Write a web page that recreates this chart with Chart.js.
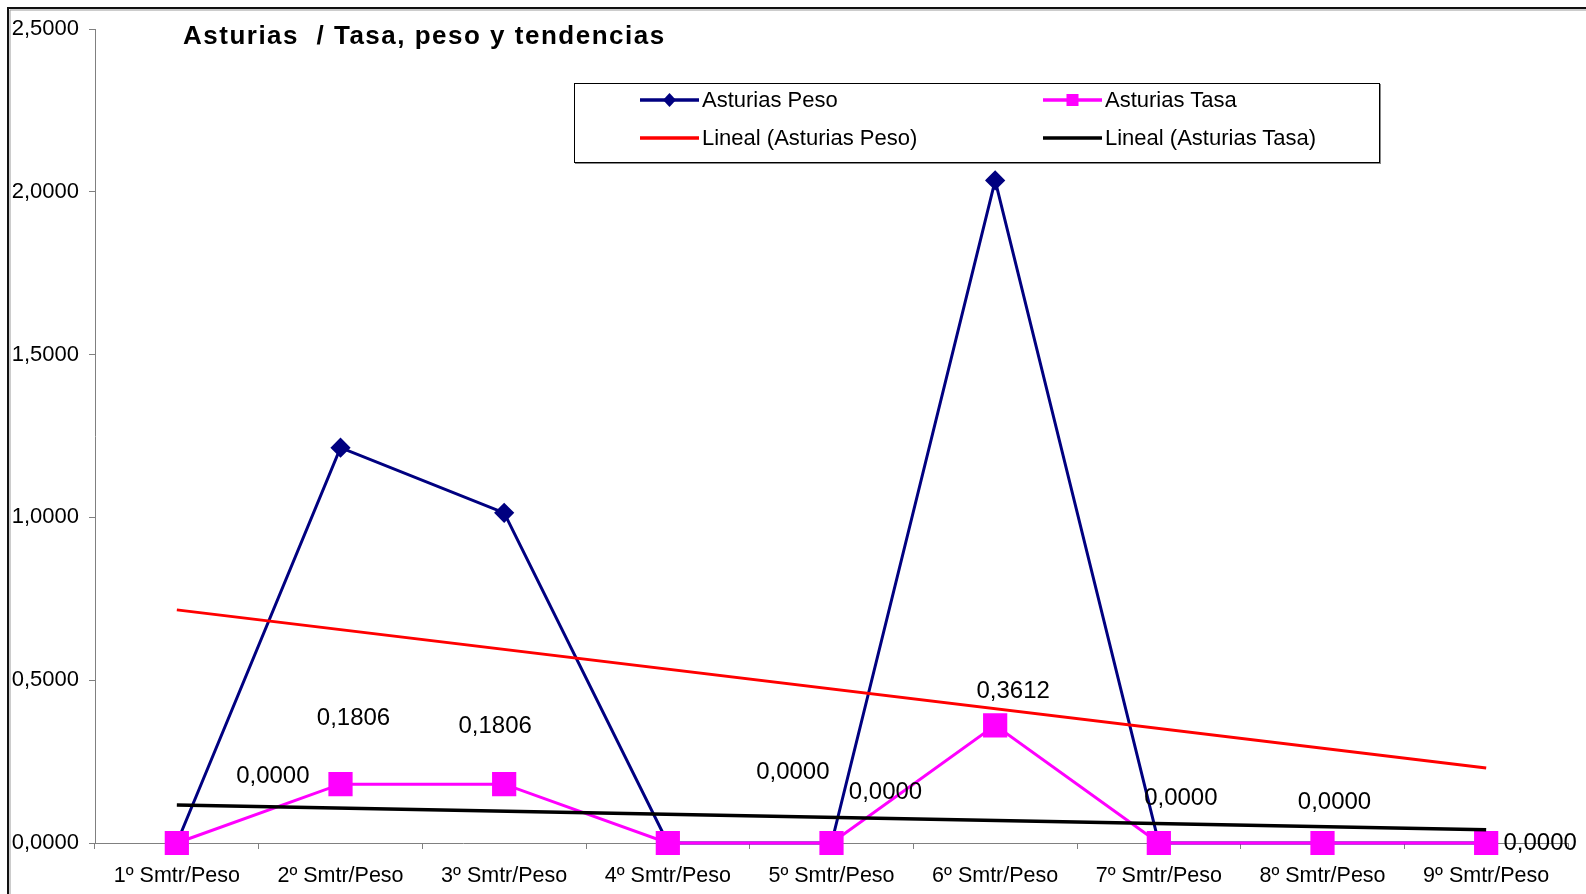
<!DOCTYPE html>
<html>
<head>
<meta charset="utf-8">
<script src="https://cdn.jsdelivr.net/npm/chart.js@4/dist/chart.umd.min.js"></script>
<style>
    body { margin: 0; background: #fff; }
    #wrap { position: relative; width: 1586px; height: 894px; font-family: 'Liberation Sans', Arial, sans-serif; }
    #chart { position: absolute; left: 0; top: 0; }
    #title { position: absolute; left: 183px; top: 20px; font-size: 26px; font-weight: bold; letter-spacing: 1.5px; white-space: pre; color: #000; }
    #legend { position: absolute; left: 574px; top: 83px; width: 804px; height: 78px; border: 1px solid #000; box-shadow: 1px 1px 0 #888; background: #fff; }
    .item { position: absolute; display: flex; align-items: center; height: 24px; font-size: 22px; color: #000; white-space: nowrap; }
    .item svg { margin-right: 3px; }
</style>
</head>
<body>
<div id="wrap">
    <canvas id="chart" width="1586" height="894"></canvas>
    <div id="title">Asturias  / Tasa, peso y tendencias</div>
    <div id="legend"></div>
</div>
<script>
// Data
const categories = ['1º Smtr/Peso', '2º Smtr/Peso', '3º Smtr/Peso', '4º Smtr/Peso', '5º Smtr/Peso',
    '6º Smtr/Peso', '7º Smtr/Peso', '8º Smtr/Peso', '9º Smtr/Peso'];
const pesoValues = [0, 1.214, 1.014, 0, 0, 2.035, 0, 0, 0];
const tasaValues = [0, 0.1806, 0.1806, 0, 0, 0.3612, 0, 0, 0];
// trend lines: value at first and last category
const pesoTrend = [0.716, 0.230];
const tasaTrend = [0.117, 0.041];
const yMin = 0;
const yMax = 2.5;
const yStep = 0.5;

// where Excel left the Tasa data labels, relative to each point (px)
const labelOffsets = [[96, -67], [13, -66], [-9, -58], [125, -71], [54, -51], [18, -34], [22, -45], [12, -41], [54, 0]];

const fmt = (v) => v.toFixed(4).replace('.', ',');

const trendData = (ends) => categories.map((c, i) => {
    if (i === 0) return ends[0];
    if (i === categories.length - 1) return ends[1];
    return null;
});

const frame = {
    id: 'frame',
    beforeDraw(chart) {
        const ctx = chart.ctx;
        ctx.save();
        ctx.strokeStyle = '#999';
        ctx.lineWidth = 1;
        ctx.beginPath();
        ctx.moveTo(10, 894); ctx.lineTo(10, 10); ctx.lineTo(1586, 10);
        ctx.stroke();
        ctx.strokeStyle = '#111';
        ctx.lineWidth = 2;
        ctx.beginPath();
        ctx.moveTo(8, 894); ctx.lineTo(8, 8); ctx.lineTo(1586, 8);
        ctx.stroke();
        ctx.restore();
    }
};

const tasaLabels = {
    id: 'tasaLabels',
    afterDatasetsDraw(chart) {
        const ctx = chart.ctx;
        const meta = chart.getDatasetMeta(1);
        ctx.save();
        ctx.font = '24px "Liberation Sans", Arial, sans-serif';
        ctx.fillStyle = '#000';
        ctx.textAlign = 'center';
        ctx.textBaseline = 'middle';
        meta.data.forEach((pt, i) => {
            const off = labelOffsets[i];
            ctx.fillText(fmt(tasaValues[i]), pt.x + off[0], pt.y + off[1]);
        });
        ctx.restore();
    }
};

const datasets = [
    {
        label: 'Asturias Peso',
        data: pesoValues,
        borderColor: '#000080',
        backgroundColor: '#000080',
        borderWidth: 3,
        pointStyle: 'rectRot',
        pointRadius: 8,
        pointHoverRadius: 8,
        clip: false,
        order: 4
    },
    {
        label: 'Asturias Tasa',
        data: tasaValues,
        borderColor: '#FF00FF',
        backgroundColor: '#FF00FF',
        borderWidth: 3,
        pointStyle: 'rect',
        pointRadius: 15,
        pointHoverRadius: 15,
        clip: false,
        order: 3
    },
    {
        label: 'Lineal (Asturias Peso)',
        data: trendData(pesoTrend),
        borderColor: '#FF0000',
        backgroundColor: '#FF0000',
        borderWidth: 3,
        pointRadius: 0,
        spanGaps: true,
        order: 2
    },
    {
        label: 'Lineal (Asturias Tasa)',
        data: trendData(tasaTrend),
        borderColor: '#000000',
        backgroundColor: '#000000',
        borderWidth: 3.5,
        pointRadius: 0,
        spanGaps: true,
        order: 1
    }
];

new Chart(document.getElementById('chart'), {
    type: 'line',
    data: { labels: categories, datasets: datasets },
    options: {
        responsive: false,
        animation: false,
        layout: { padding: { top: 29, right: 15, left: 0, bottom: 0 } },
        plugins: {
            legend: { display: false },
            title: { display: false },
            tooltip: { enabled: false }
        },
        elements: { line: { tension: 0 } },
        scales: {
            x: {
                offset: true,
                grid: { drawOnChartArea: false, drawTicks: true, tickLength: 6, color: '#808080', offset: true },
                border: { color: '#808080', width: 1 },
                ticks: { color: '#000', font: { family: 'Liberation Sans', size: 21.5 }, padding: 14, maxRotation: 0, autoSkip: false },
                afterFit: (s) => { s.height = 51; }
            },
            y: {
                min: yMin,
                max: yMax,
                ticks: {
                    stepSize: yStep,
                    color: '#000',
                    font: { family: 'Liberation Sans', size: 22 },
                    padding: 10,
                    callback: (v) => fmt(v)
                },
                grid: { drawOnChartArea: false, drawTicks: true, tickLength: 6, color: '#808080' },
                border: { color: '#808080', width: 1 },
                afterFit: (s) => { s.width = 95; }
            }
        }
    },
    plugins: [frame, tasaLabels]
});

// legend box, 2 x 2 like the Excel one
const legendEl = document.getElementById('legend');
const legendPos = [[65, 4], [468, 4], [65, 42], [468, 42]];
datasets.forEach((ds, i) => {
    const item = document.createElement('div');
    item.className = 'item';
    item.style.left = legendPos[i][0] + 'px';
    item.style.top = legendPos[i][1] + 'px';
    let marker = '';
    if (ds.pointStyle === 'rectRot') {
        marker = `<polygon points="29.5,5 36,12 29.5,19 23,12" fill="${ds.borderColor}"/>`;
    } else if (ds.pointStyle === 'rect') {
        marker = `<rect x="23.5" y="6" width="12" height="12" fill="${ds.borderColor}"/>`;
    }
    item.innerHTML = `<svg width="59" height="24"><line x1="0" y1="12" x2="59" y2="12" stroke="${ds.borderColor}" stroke-width="3.5" stroke-linecap="round"/>${marker}</svg><span>${ds.label}</span>`;
    legendEl.appendChild(item);
});
</script>
</body>
</html>
